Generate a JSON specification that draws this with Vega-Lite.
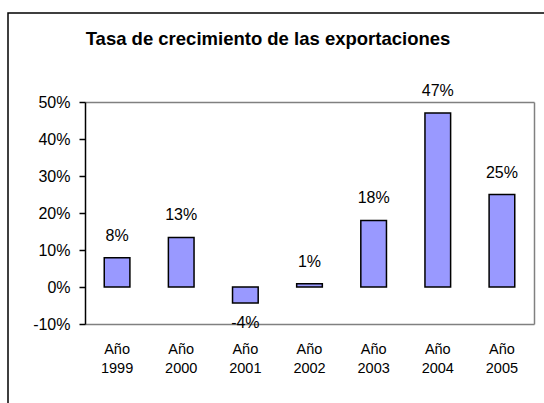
{
  "$schema": "https://vega.github.io/schema/vega-lite/v6.json",
  "width": 540,
  "height": 395,
  "autosize": "none",
  "padding": {"left": 8, "top": 13, "right": 0, "bottom": 0},
  "background": "white",
  "view": {"stroke": "black", "strokeWidth": 1.5, "fill": "white"},
  "title": {
    "text": "Tasa de crecimiento de las exportaciones",
    "font": "Liberation Sans",
    "fontSize": 18.5,
    "fontWeight": "bold",
    "color": "black",
    "anchor": "middle",
    "dx": -10,
    "baseline": "alphabetic",
    "offset": -50
  },
  "data": {
    "values": [
      {"year": "1999", "rate": 0.079},
      {"year": "2000", "rate": 0.134},
      {"year": "2001", "rate": -0.043},
      {"year": "2002", "rate": 0.009},
      {"year": "2003", "rate": 0.18},
      {"year": "2004", "rate": 0.47},
      {"year": "2005", "rate": 0.25}
    ]
  },
  "layer": [
    {
      "mark": {"type": "bar", "fill": "#9999FF", "stroke": "black", "strokeWidth": 1.5},
      "encoding": {
        "x": {
          "field": "year", "type": "nominal", "sort": null,
          "scale": {"range": [77, 526], "paddingInner": 0.6, "paddingOuter": 0.3},
          "axis": {
            "orient": "bottom", "offset": -84, "title": null,
            "domainColor": "#808080", "domainWidth": 1.5, "ticks": false,
            "labelAngle": 0, "labelExpr": "['Año', datum.value]",
            "labelFont": "Liberation Sans", "labelFontSize": 14.5, "labelLineHeight": 19,
            "labelColor": "black", "labelPadding": 18, "labelBaseline": "top"
          }
        },
        "y": {
          "field": "rate", "type": "quantitative",
          "scale": {"domain": [-0.1, 0.5], "range": [311, 89], "nice": false, "zero": true},
          "axis": {
            "orient": "left", "offset": -77, "title": null,
            "values": [-0.1, 0, 0.1, 0.2, 0.3, 0.4, 0.5], "format": ".0%",
            "domainColor": "black", "domainWidth": 1.5,
            "tickColor": "black", "tickSize": 6, "tickWidth": 1.5,
            "grid": false, "labelFont": "Liberation Sans", "labelFontSize": 16,
            "labelColor": "black", "labelPadding": 9
          }
        }
      }
    },
    {
      "transform": [{"filter": "datum.rate >= 0"}],
      "mark": {"type": "text", "font": "Liberation Sans", "fontSize": 16, "color": "black", "baseline": "middle", "dy": -22},
      "encoding": {
        "x": {
          "field": "year", "type": "nominal", "sort": null,
          "axis": {"orient": "top", "offset": -89, "title": null, "labels": false, "ticks": false,
                   "domainColor": "#808080", "domainWidth": 1.5}
        },
        "y": {
          "field": "rate", "type": "quantitative",
          "axis": {"orient": "right", "offset": -14, "title": null, "labels": false, "ticks": false,
                   "grid": false, "domainColor": "#808080", "domainWidth": 1.5}
        },
        "text": {"field": "rate", "type": "quantitative", "format": ".0%"}
      }
    },
    {
      "transform": [{"filter": "datum.rate < 0"}],
      "mark": {"type": "text", "font": "Liberation Sans", "fontSize": 16, "color": "black", "baseline": "middle", "dy": 20},
      "encoding": {
        "x": {"field": "year", "type": "nominal", "sort": null, "axis": null},
        "y": {"field": "rate", "type": "quantitative", "axis": null},
        "text": {"field": "rate", "type": "quantitative", "format": ".0%"}
      }
    }
  ],
  "resolve": {"axis": {"x": "independent", "y": "independent"}},
  "config": {
    "locale": {"number": {"decimal": ".", "thousands": ",", "grouping": [3], "currency": ["$", ""], "minus": "-"}}
  }
}
